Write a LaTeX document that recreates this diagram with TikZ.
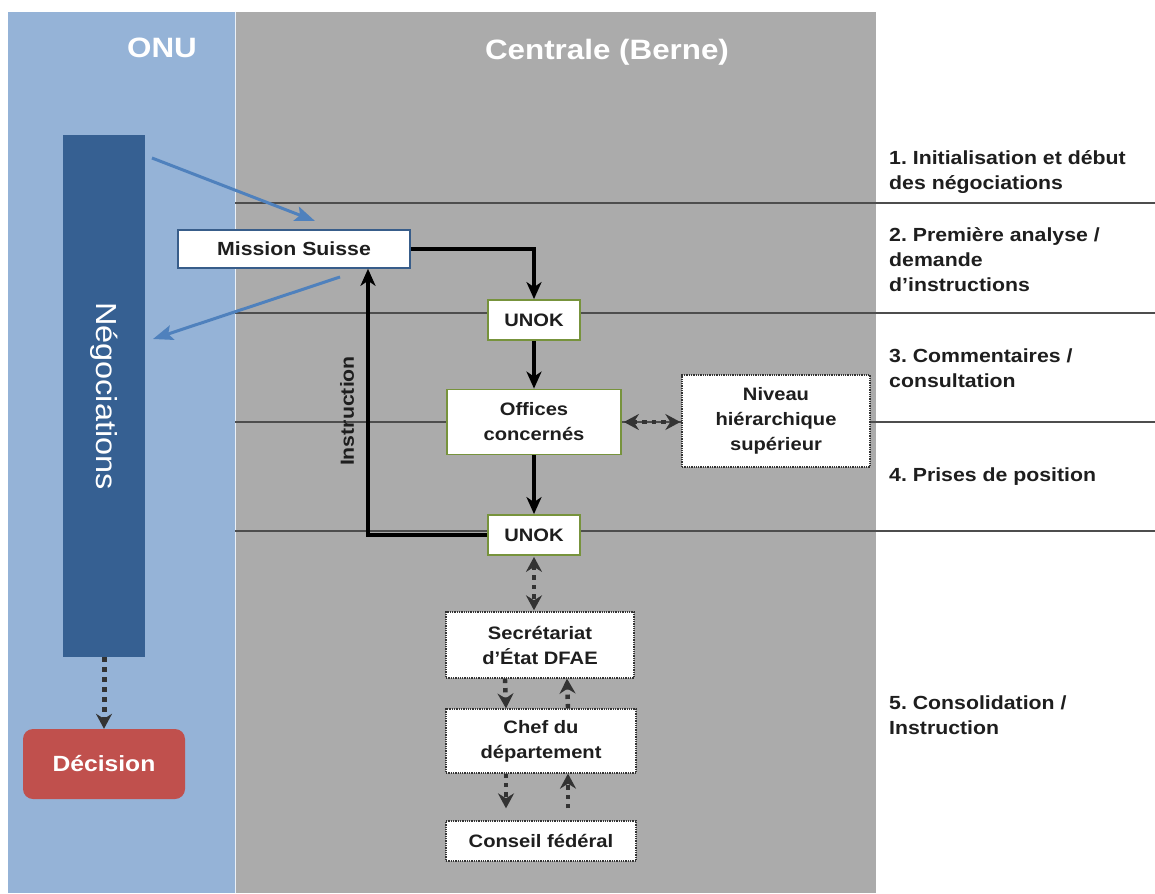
\documentclass[tikz,border=0pt]{standalone}
\usepackage{fontspec}
\setmainfont{Liberation Sans}[FakeStretch=1.12]
\usetikzlibrary{arrows.meta}
\frenchspacing
\definecolor{onublue}{HTML}{95B3D7}
\definecolor{cgray}{HTML}{ABABAB}
\definecolor{negblue}{HTML}{366092}
\definecolor{arrblue}{HTML}{4F81BD}
\definecolor{msborder}{HTML}{385D8A}
\definecolor{okgreen}{HTML}{77933C}
\definecolor{decred}{HTML}{C0504D}
\definecolor{dotgray}{HTML}{333333}
\definecolor{linegray}{HTML}{4D4D4D}
\definecolor{txt}{HTML}{1E1E1E}
\begin{document}
\begin{tikzpicture}[x=1pt,y=-1pt,
  box/.style={draw, fill=white, align=center, font=\fontsize{18}{25}\selectfont\bfseries, text=txt, inner sep=0pt},
  msbox/.style={box, draw=msborder, line width=1.6pt, font=\fontsize{19}{25}\selectfont\bfseries},
  okbox/.style={box, draw=okgreen, line width=1.8pt},
  dotbox/.style={box, draw=dotgray, line width=1.3pt, densely dotted},
  flow/.style={draw=black, line width=3.6pt, -{Stealth[length=17pt,width=15pt,inset=5pt]}},
  dotarrow/.style={draw=dotgray, line width=4.4pt, dash pattern=on 4.4pt off 5pt, -{Stealth[length=15pt,width=16pt,inset=5pt]}},
  dotboth/.style={dotarrow, {Stealth[length=15pt,width=16pt,inset=5pt]}-{Stealth[length=15pt,width=16pt,inset=5pt]}},
  bluearrow/.style={draw=arrblue, line width=3pt, -{Stealth[length=20pt,width=15pt,inset=4pt]}},
  sepline/.style={draw=linegray, line width=1.3pt},
  header/.style={text=white, font=\fontsize{28}{32}\selectfont\bfseries},
  label/.style={anchor=west, align=left, inner sep=0pt, text=txt, font=\fontsize{19}{25}\selectfont\bfseries}
]
\useasboundingbox (0,0) rectangle (1155,893);
\fill[white] (0,0) rectangle (1155,893);
% panels
\fill[onublue] (8,12) rectangle (235,893);
\fill[cgray] (235,12) rectangle (876,893);
\draw[white!80!onublue, line width=0.8pt] (235,12) -- (235,893);
% headers
\node[header] (onu) at (162,48) {ONU};
\node[header] (centrale) at (607,52) {Centrale (Berne)};
% separator lines
\draw[sepline] (235,203) -- (1155,203);
\draw[sepline] (235,313) -- (1155,313);
\draw[sepline] (235,422) -- (1155,422);
\draw[sepline] (235,531) -- (1155,531);
% phase labels
\node[label] (p1) at (889,172) {1. Initialisation et début\\des négociations};
\node[label] (p2) at (889,260) {2. Première analyse /\\demande\\d’instructions};
\node[label] (p3) at (889,368) {3. Commentaires /\\consultation};
\node[label] (p4) at (889,477) {4. Prises de position};
\node[label] (p5) at (889,715) {5. Consolidation /\\Instruction};
% negotiations bar
\node[fill=negblue, minimum width=82pt, minimum height=522pt, inner sep=0pt] (neg) at (104,396) {};
\node[rotate=-90, text=white, font=\fontsize{29}{32}\selectfont] (negtxt) at (neg.center) {Négociations};
% decision
\node[fill=decred, rounded corners=10pt, minimum width=162pt, minimum height=70pt, text=white, font=\fontsize{22}{26}\selectfont\bfseries] (dec) at (104,764) {Décision};
% boxes
\node[msbox, minimum width=232pt, minimum height=38pt] (ms) at (294,249) {Mission Suisse};
\node[okbox, minimum width=92pt, minimum height=40pt] (unok1) at (534,320) {UNOK};
\node[okbox, minimum width=174pt, minimum height=65pt] (off) at (534,422) {Offices\\concernés};
\node[dotbox, minimum width=188pt, minimum height=92pt] (niv) at (776,421) {Niveau\\hiérarchique\\supérieur};
\node[okbox, minimum width=92pt, minimum height=40pt] (unok2) at (534,535) {UNOK};
\node[dotbox, minimum width=188pt, minimum height=66pt] (sec) at (540,645) {Secrétariat\\d’État DFAE};
\node[dotbox, minimum width=190pt, minimum height=64pt] (chef) at (541,741) {Chef du\\département};
\node[dotbox, minimum width=190pt, minimum height=40pt] (cf) at (541,841) {Conseil fédéral};
% blue arrows
\coordinate (b1s) at (152,158);
\coordinate (b1e) at (315,221);
\coordinate (b2s) at (340,277);
\coordinate (b2e) at (153,339);
\draw[bluearrow] (b1s) -- (b1e);
\draw[bluearrow] (b2s) -- (b2e);
% main flow
\draw[flow] (ms.east) -| (unok1.north);
\draw[flow] (unok1.south) -- (off.north);
\draw[flow] (off.south) -- (unok2.north);
\draw[flow] (unok2.west) -| ([xshift=74pt]ms.south);
\node[rotate=90, text=txt, font=\fontsize{19}{22}\selectfont\bfseries] (instr) at (347,411) {Instruction};
% dotted arrows
\draw[dotboth] ([yshift=-1pt]unok2.south) -- ([yshift=1pt]sec.north -| unok2.south);
\draw[dotboth] ([xshift=2pt]off.east) -- ([xshift=-1pt]niv.west |- off.east);
\draw[dotarrow] ([xshift=-35pt]sec.south) -- ([xshift=-35pt]chef.north);
\draw[dotarrow] ([xshift=27pt]chef.north) -- ([xshift=27pt]sec.south);
\draw[dotarrow, shorten >=12pt] ([xshift=-35pt]chef.south) -- ([xshift=-35pt]cf.north);
\draw[dotarrow, shorten <=12pt] ([xshift=27pt]cf.north) -- ([xshift=27pt]chef.south);
\draw[dotarrow, dash pattern=on 5pt off 5pt, line width=5pt] (neg.south) -- (dec.north);
\end{tikzpicture}
\end{document}
